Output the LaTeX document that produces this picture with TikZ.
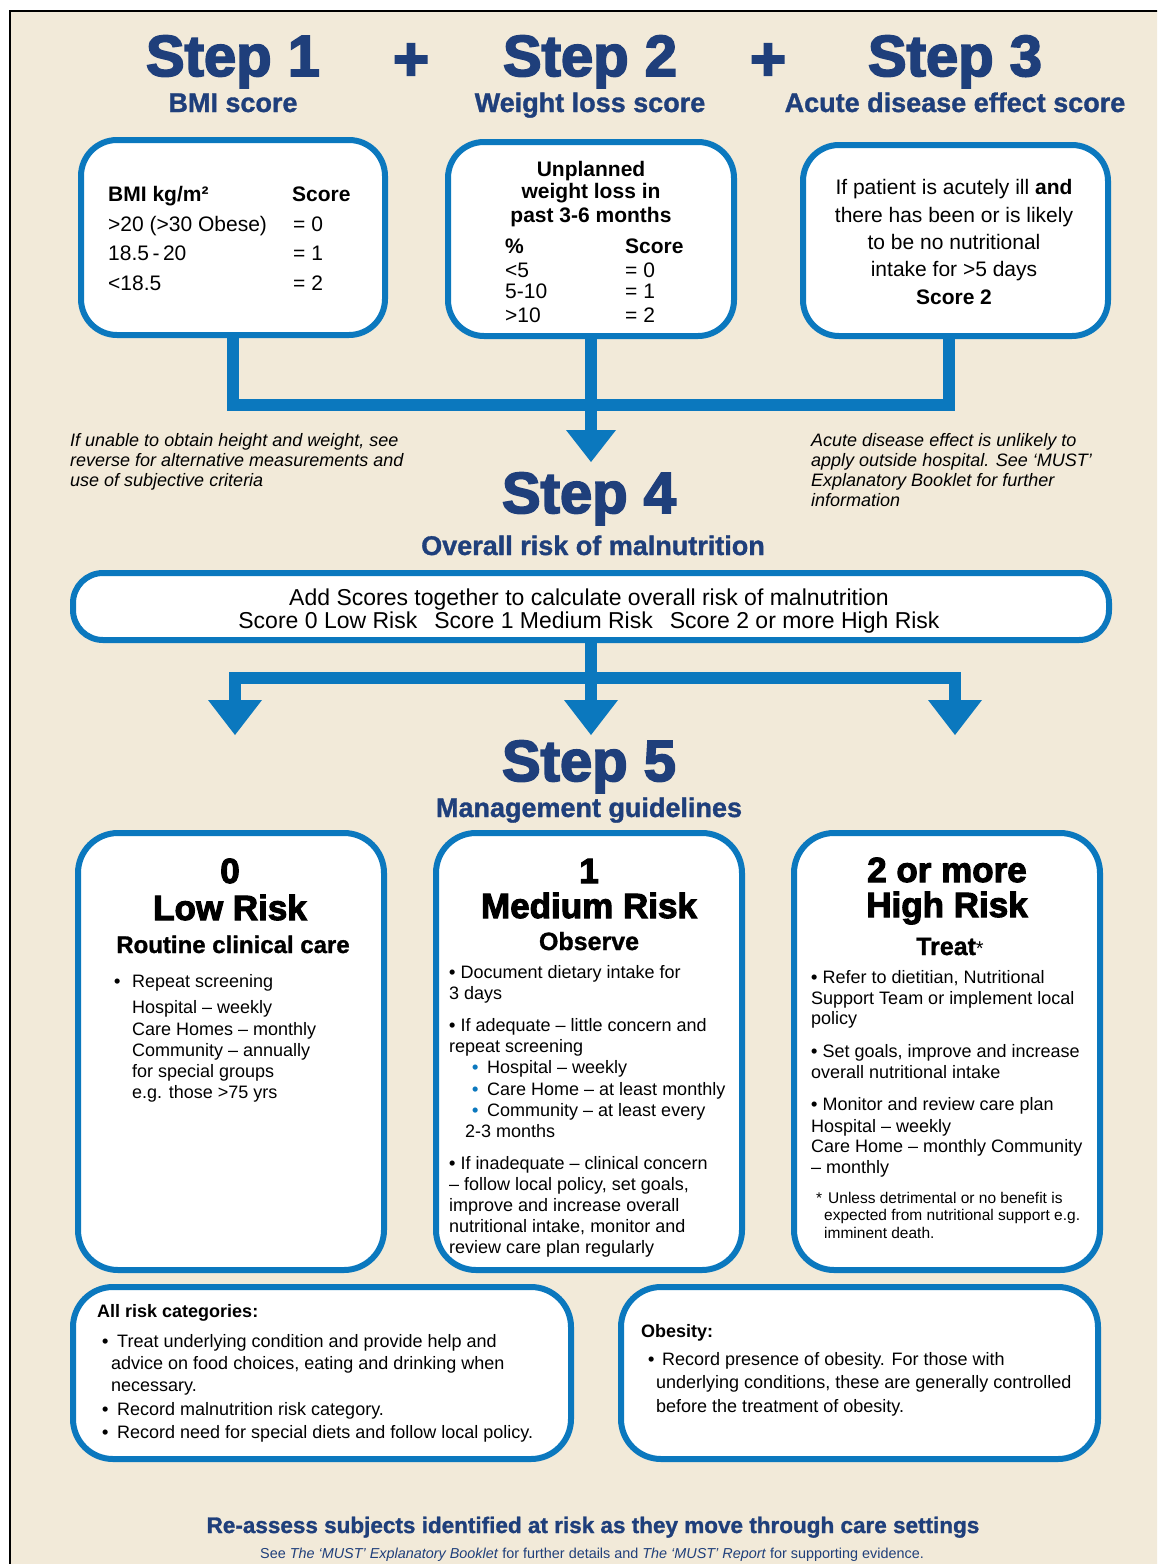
\documentclass[tikz,border=0pt]{standalone}
\usepackage{fontspec}
\setmainfont{Liberation Sans}
\newfontfamily\heavy[FakeBold=3]{Liberation Sans Bold}
\newfontfamily\semiheavy[FakeBold=1.2]{Liberation Sans Bold}
\newfontfamily\hb{Liberation Sans Bold}
\usetikzlibrary{arrows.meta}
\definecolor{navy}{HTML}{1F3F7B}
\definecolor{mblue}{HTML}{0B78BE}
\definecolor{beige}{HTML}{F2EAD9}
\newcommand{\setfs}[1]{\fontsize{#1}{#1}\selectfont}
\newcommand{\blt}{{\hb •}}
\tikzset{
  bbox/.style={draw=mblue, line width=6pt, fill=white, rounded corners=36pt, inner sep=0pt},
  bar/.style={draw=mblue, line width=12pt},
  arrA/.style={bar, -{Triangle[width=50pt,length=32pt,line width=0pt]}},
  arrB/.style={bar, -{Triangle[width=54pt,length=35pt,line width=0pt]}},
  tx/.style={inner sep=0pt, anchor=base west, text=black},
  tc/.style={inner sep=0pt, anchor=base, text=black},
  stepname/.style={inner sep=0pt, anchor=base, text=navy, font=\heavy\setfs{58}},
  stepsub/.style={inner sep=0pt, anchor=base, text=navy, font=\semiheavy\setfs{27}},
  note/.style={tx, font=\itshape\setfs{18}},
  body/.style={tx, font=\setfs{18}},
  bodyc/.style={tx, font=\setfs{21}},
  bodyb/.style={tx, font=\hb\setfs{21}},
  riskhead/.style={tc, font=\heavy\setfs{35}},
  risksub/.style={tc, font=\semiheavy\setfs{24}},
  small/.style={tx, font=\setfs{15.5}},
  bot/.style={tx, font=\setfs{18}},
}
\begin{document}
\begin{tikzpicture}[x=1pt,y=-1pt]
\useasboundingbox (0,0) rectangle (1157,1564);
\clip (0,0) rectangle (1157,1564);
\fill[white] (0,0) rectangle (1157,1564);
\draw[black, line width=1.2pt, fill=beige] (10,11) rectangle (1180,1590);

% ---------- headings ----------
\node[stepname] (st1) at (233,76) {Step 1};
\node[stepsub] (st1s) at (233,112) {BMI score};
\node[stepname, anchor=center, font=\heavy\setfs{62}] (pl1) at (411,62) {+};
\node[stepname] (st2) at (590,76) {Step 2};
\node[stepsub] (st2s) at (590,112) {Weight loss score};
\node[stepname, anchor=center, font=\heavy\setfs{62}] (pl2) at (768,62) {+};
\node[stepname] (st3) at (955,76) {Step 3};
\node[stepsub] (st3s) at (955,112) {Acute disease effect score};

% ---------- row 1 boxes ----------
\node[bbox, minimum width=304pt, minimum height=195pt] (b1) at (233,237.5) {};
\node[bbox, minimum width=286pt, minimum height=194pt] (b2) at (591,239) {};
\node[bbox, minimum width=305pt, minimum height=191pt] (b3) at (955.5,240.5) {};

\node[bodyb] (b1a) at (108,201) {BMI kg/m²};
\node[bodyb] (b1b) at (292,201) {Score};
\node[bodyc] (b1c) at (108,231) {>20 (>30 Obese)};
\node[bodyc] (b1d) at (293,231) {= 0};
\node[bodyc] (b1e) at (108,260) {18.5\,-\,20};
\node[bodyc] (b1f) at (293,260) {= 1};
\node[bodyc] (b1g) at (108,290) {<18.5};
\node[bodyc] (b1h) at (293,290) {= 2};

\node[tc, font=\hb\setfs{21}] (b2a) at (591,176) {Unplanned};
\node[tc, font=\hb\setfs{21}] (b2b) at (591,198) {weight loss in};
\node[tc, font=\hb\setfs{21}] (b2c) at (591,222) {past 3-6 months};
\node[bodyb] (b2d) at (505,253) {\%};
\node[bodyb] (b2e) at (625,253) {Score};
\node[bodyc] (b2f) at (505,277) {<5};
\node[bodyc] (b2g) at (625,277) {= 0};
\node[bodyc] (b2h) at (505,298) {5-10};
\node[bodyc] (b2i) at (625,298) {= 1};
\node[bodyc] (b2j) at (505,322) {>10};
\node[bodyc] (b2k) at (625,322) {= 2};

\node[tc, font=\setfs{21}] (b3a) at (954,194) {If patient is acutely ill {\hb and}};
\node[tc, font=\setfs{21}] (b3b) at (954,222) {there has been or is likely};
\node[tc, font=\setfs{21}] (b3c) at (954,249) {to be no nutritional};
\node[tc, font=\setfs{21}] (b3d) at (954,276) {intake for >5 days};
\node[tc, font=\hb\setfs{21}] (b3e) at (954,304) {Score 2};

% ---------- connectors to step 4 ----------
\coordinate (j4) at (591,405);
\coordinate (t4) at (591,462);
\draw[bar] (b1.south) |- (j4) -| ([xshift=-7pt]b3.south);
\draw[arrA] (b2.south) -- (t4);

% ---------- notes ----------
\node[note] (n1) at (70,446) {If unable to obtain height and weight, see};
\node[note] (n2) at (70,466) {reverse for alternative measurements and};
\node[note] (n3) at (70,486) {use of subjective criteria};
\node[note] (n4) at (811,446) {Acute disease effect is unlikely to};
\node[note] (n5) at (811,466) {apply outside hospital. See ‘MUST’};
\node[note] (n6) at (811,486) {Explanatory Booklet for further};
\node[note] (n7) at (811,506) {information};

% ---------- step 4 ----------
\node[stepname] (st4) at (589,513) {Step 4};
\node[stepsub] (st4s) at (593,555) {Overall risk of malnutrition};
\node[bbox, rounded corners=30pt, minimum width=1036pt, minimum height=67pt] (b4) at (591,606.5) {};
\node[tc, font=\setfs{23}] (b4a) at (589,605) {Add Scores together to calculate overall risk of malnutrition};
\node[tc, font=\setfs{23}] (b4b) at (589,628) {Score 0 Low Risk\hspace{17pt}Score 1 Medium Risk\hspace{17pt}Score 2 or more High Risk};

% ---------- connectors to step 5 ----------
\coordinate (m5) at (591,678);
\coordinate (t5a) at (235,735);
\coordinate (t5b) at (591,735);
\coordinate (t5c) at (955,735);
\draw[arrB] (b4.south) -- (t5b);
\draw[arrB] (m5) -| (t5a);
\draw[arrB] (m5) -| (t5c);

% ---------- step 5 ----------
\node[stepname] (st5) at (589,781) {Step 5};
\node[stepsub] (st5s) at (589,817) {Management guidelines};

\node[bbox, rounded corners=40pt, minimum width=306pt, minimum height=437pt] (b5) at (231,1051.5) {};
\node[bbox, rounded corners=40pt, minimum width=306pt, minimum height=437pt] (b6) at (589,1051.5) {};
\node[bbox, rounded corners=40pt, minimum width=306pt, minimum height=437pt] (b7) at (947,1051.5) {};

% low risk
\node[riskhead] (b5a) at (230,883) {0};
\node[riskhead] (b5b) at (230,920) {Low Risk};
\node[risksub] (b5c) at (233,953) {Routine clinical care};
\node[body] (b5d) at (114,987) {\blt};
\node[body] (b5e) at (132,987) {Repeat screening};
\node[body] (b5f) at (132,1013) {Hospital – weekly};
\node[body] (b5g) at (132,1035) {Care Homes – monthly};
\node[body] (b5h) at (132,1056) {Community – annually};
\node[body] (b5i) at (132,1077) {for special groups};
\node[body] (b5j) at (132,1098) {e.g. those >75 yrs};

% medium risk
\node[riskhead] (b6a) at (589,883) {1};
\node[riskhead] (b6b) at (589,918) {Medium Risk};
\node[risksub, font=\semiheavy\setfs{25}] (b6c) at (589,950) {Observe};
\node[body] (b6d) at (449,978) {\blt{} Document dietary intake for};
\node[body] (b6e) at (449,999) {3 days};
\node[body] (b6f) at (449,1031) {\blt{} If adequate – little concern and};
\node[body] (b6g) at (449,1052) {repeat screening};
\node[body, text=mblue] (b6h) at (472,1073) {\blt};
\node[body] (b6i) at (487,1073) {Hospital – weekly};
\node[body, text=mblue] (b6j) at (472,1095) {\blt};
\node[body] (b6k) at (487,1095) {Care Home – at least monthly};
\node[body, text=mblue] (b6l) at (472,1116) {\blt};
\node[body] (b6m) at (487,1116) {Community – at least every};
\node[body] (b6n) at (465,1137) {2-3 months};
\node[body] (b6o) at (449,1169) {\blt{} If inadequate – clinical concern};
\node[body] (b6p) at (449,1190) {– follow local policy, set goals,};
\node[body] (b6q) at (449,1211) {improve and increase overall};
\node[body] (b6r) at (449,1232) {nutritional intake, monitor and};
\node[body] (b6s) at (449,1253) {review care plan regularly};

% high risk
\node[riskhead] (b7a) at (947,882) {2 or more};
\node[riskhead] (b7b) at (947,917) {High Risk};
\node[risksub, font=\semiheavy\setfs{25}] (b7c) at (950,955) {Treat{\normalfont\setfs{20}*}};
\node[body] (b7d) at (811,983) {\blt{} Refer to dietitian, Nutritional};
\node[body] (b7e) at (811,1004) {Support Team or implement local};
\node[body] (b7f) at (811,1024) {policy};
\node[body] (b7g) at (811,1057) {\blt{} Set goals, improve and increase};
\node[body] (b7h) at (811,1078) {overall nutritional intake};
\node[body] (b7i) at (811,1110) {\blt{} Monitor and review care plan};
\node[body] (b7j) at (811,1132) {Hospital – weekly};
\node[body] (b7k) at (811,1152) {Care Home – monthly Community};
\node[body] (b7l) at (811,1173) {– monthly};
\node[small] (b7m) at (816,1203) {*};
\node[small] (b7n) at (828,1203) {Unless detrimental or no benefit is};
\node[small] (b7o) at (824,1220) {expected from nutritional support e.g.};
\node[small] (b7p) at (824,1238) {imminent death.};

% ---------- bottom boxes ----------
\node[bbox, rounded corners=40pt, minimum width=498pt, minimum height=172pt] (b8) at (322,1373) {};
\node[bbox, rounded corners=40pt, minimum width=477pt, minimum height=172pt] (b9) at (859.5,1373) {};

\node[tx, font=\hb\setfs{18}] (b8a) at (97,1317) {All risk categories:};
\node[bot] (b8b) at (102,1347) {\blt};
\node[bot] (b8c) at (117,1347) {Treat underlying condition and provide help and};
\node[bot] (b8d) at (111,1369) {advice on food choices, eating and drinking when};
\node[bot] (b8e) at (111,1391) {necessary.};
\node[bot] (b8f) at (102,1415) {\blt};
\node[bot] (b8g) at (117,1415) {Record malnutrition risk category.};
\node[bot] (b8h) at (102,1438) {\blt};
\node[bot] (b8i) at (117,1438) {Record need for special diets and follow local policy.};

\node[tx, font=\hb\setfs{18}] (b9a) at (641,1337) {Obesity:};
\node[bot] (b9b) at (648,1365) {\blt};
\node[bot] (b9c) at (662,1365) {Record presence of obesity. For those with};
\node[bot] (b9d) at (656,1388) {underlying conditions, these are generally controlled};
\node[bot] (b9e) at (656,1412) {before the treatment of obesity.};

% ---------- footer ----------
\node[tc, text=navy, font=\semiheavy\setfs{22.5}] (f1) at (593,1533) {Re-assess subjects identified at risk as they move through care settings};
\node[tc, text=navy, font=\setfs{14.4}] (f2) at (592,1558) {See \textit{The ‘MUST’ Explanatory Booklet} for further details and \textit{The ‘MUST’ Report} for supporting evidence.};
\end{tikzpicture}
\end{document}
